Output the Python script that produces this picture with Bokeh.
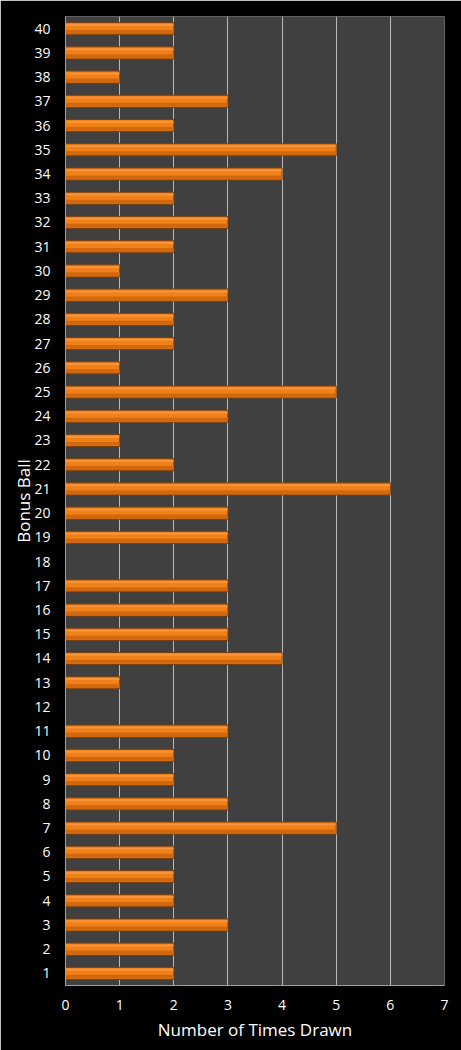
from bokeh.plotting import figure
from bokeh.embed import file_html
from bokeh.resources import INLINE
from bokeh.models import ColumnDataSource, Range1d, FixedTicker

# Bonus ball number vs. number of times drawn
balls = list(range(1, 41))
times_drawn = [2, 2, 3, 2, 2, 2, 5, 3, 2, 2,
               3, 0, 1, 4, 3, 3, 3, 0, 3, 3,
               6, 2, 1, 3, 5, 1, 2, 2, 3, 1,
               2, 3, 2, 4, 5, 2, 3, 1, 2, 2]
x_ticks = [0, 1, 2, 3, 4, 5, 6, 7]

src = ColumnDataSource(data=dict(
    ball=balls,
    drawn=times_drawn,
    hi=[b + 0.15 for b in balls],
    lo=[b - 0.14 for b in balls],
))

p = figure(width=461, height=1050,
           x_range=Range1d(0, 7), y_range=Range1d(0.5, 40.5),
           toolbar_location=None, output_backend="svg",
           background_fill_color="#404040", border_fill_color="black",
           min_border_left=65, min_border_top=16, min_border_right=17,
           min_border_bottom=65)

p.outline_line_color = None

# bars: base, darker lower half, light top highlight
p.hbar(y='ball', right='drawn', left=0, height=0.5, source=src,
       fill_color='#F08018', line_color='#7A3E0E', line_width=1)
p.hbar(y='lo', right='drawn', left=0, height=0.16, source=src,
       fill_color='#D2680E', line_color=None)
p.hbar(y='hi', right='drawn', left=0, height=0.08, source=src,
       fill_color='#FAA458', fill_alpha=0.6, line_color=None)

p.xaxis.ticker = FixedTicker(ticks=x_ticks)
p.yaxis.ticker = FixedTicker(ticks=balls)

p.xgrid.grid_line_color = '#b8b8b8'
p.xgrid.grid_line_width = 1
p.ygrid.grid_line_color = None

for ax in (p.xaxis, p.yaxis):
    ax.axis_line_color = '#a0a0a0'
    ax.major_tick_line_color = None
    ax.minor_tick_line_color = None
    ax.major_label_text_color = 'white'
    ax.major_label_text_font = 'Open Sans'
    ax.major_label_text_font_size = '14px'
    ax.axis_label_text_color = 'white'
    ax.axis_label_text_font = 'Open Sans'
    ax.axis_label_text_font_size = '17px'
    ax.axis_label_text_font_style = 'normal'

p.xaxis.axis_label = 'Number of Times Drawn'
p.yaxis.axis_label = 'Bonus Ball'
p.xaxis.major_label_standoff = 8
p.yaxis.major_label_standoff = 9
p.xaxis.axis_label_standoff = 5
p.yaxis.axis_label_standoff = -4

open("out.html", "w").write(file_html(p, INLINE))
